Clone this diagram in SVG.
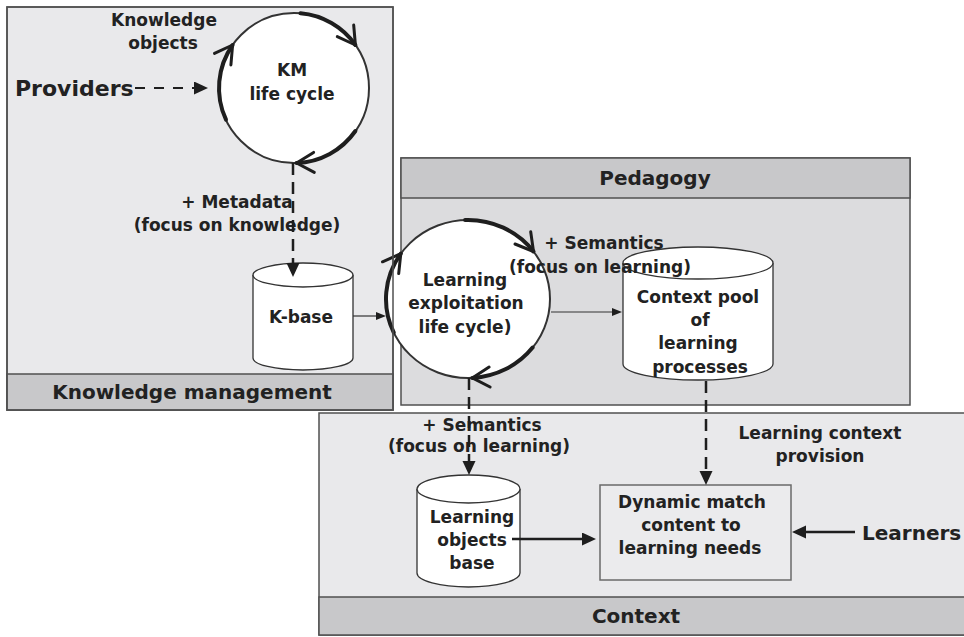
<svg xmlns="http://www.w3.org/2000/svg" width="964" height="637" viewBox="0 0 964 637">
  <defs>
    <style>
      .panel { fill: #e9e9eb; stroke: #505050; stroke-width: 1.5; }
      .panel-dark { fill: #dcdcde; stroke: #505050; stroke-width: 1.5; }
      .band { fill: #c8c8ca; stroke: #505050; stroke-width: 1.5; }
      .frame { fill: none; stroke: #505050; stroke-width: 1.5; }
      .cyl { fill: #ffffff; stroke: #333333; stroke-width: 1.3; }
      .box { fill: #ebebed; stroke: #6a6a6a; stroke-width: 1.5; }
      .cycle { fill: #ffffff; stroke: #333333; stroke-width: 2; }
      .turn { fill: none; stroke: #1e1e1e; stroke-width: 4; stroke-linecap: round; }
      .chev { fill: none; stroke: #1e1e1e; stroke-width: 3; stroke-linecap: round; stroke-linejoin: round; }
      .lbl { font-family: "DejaVu Sans", Verdana, sans-serif; font-weight: bold; font-size: 17px; fill: #222222; text-anchor: middle; }
      .big { font-size: 20px; }
      .huge { font-size: 22px; }
      .dash { fill: none; stroke: #1e1e1e; stroke-width: 2.5; stroke-dasharray: 12 7; }
      .thin { fill: none; stroke: #333333; stroke-width: 1.2; }
      .thick { fill: none; stroke: #1e1e1e; stroke-width: 2.5; }
    </style>
    <marker id="headL" markerUnits="userSpaceOnUse" markerWidth="15" markerHeight="14" refX="2" refY="6.5" orient="auto">
      <path d="M0,0 L14,6.5 L0,13 z" fill="#1e1e1e"/>
    </marker>
    <marker id="headS" markerUnits="userSpaceOnUse" markerWidth="11" markerHeight="9" refX="1" refY="4" orient="auto">
      <path d="M0,0 L10,4 L0,8 z" fill="#1e1e1e"/>
    </marker>
  </defs>

  <!-- Panels -->
  <g id="panel-km">
    <rect class="panel" x="7" y="7" width="386" height="403"/>
    <rect class="band" x="7" y="374" width="386" height="36"/>
    <text class="lbl big" x="192" y="399">Knowledge management</text>
  </g>
  <g id="panel-pedagogy">
    <rect class="panel-dark" x="401" y="158" width="509" height="247"/>
    <rect class="band" x="401" y="158" width="509" height="40"/>
    <text class="lbl big" x="655" y="185">Pedagogy</text>
  </g>
  <g id="panel-context">
    <rect class="panel" x="319" y="413" width="660" height="222"/>
    <rect class="band" x="319" y="597" width="660" height="38"/>
    <text class="lbl big" x="636" y="623">Context</text>
  </g>

  <!-- KM life cycle -->
  <g id="km-cycle">
    <circle class="cycle" cx="294" cy="88" r="75"/>
    <path class="turn" d="M226.0,119.7 A75,75 0 0 1 232.6,45.0"/>
    <polyline class="chev" points="214.5,53.4 232.6,45.0 230.9,64.9"/>
    <path class="turn" d="M300.5,13.3 A75,75 0 0 1 355.4,45.0"/>
    <polyline class="chev" points="353.7,25.1 355.4,45.0 337.3,36.6"/>
    <path class="turn" d="M355.4,131.0 A75,75 0 0 1 296.6,163.0"/>
    <polyline class="chev" points="314.3,172.4 296.6,163.0 313.6,152.4"/>
    <text class="lbl" x="292" y="76">KM</text>
    <text class="lbl" x="292" y="100">life cycle</text>
  </g>

  <!-- Learning exploitation life cycle -->
  <g id="learning-cycle">
    <ellipse class="cycle" cx="468" cy="299" rx="82" ry="79"/>
    <path class="turn" d="M393.7,332.4 A82,79 0 0 1 400.8,253.7"/>
    <polyline class="chev" points="382.5,261.8 400.8,253.7 398.7,273.6"/>
    <path class="turn" d="M465.1,220.0 A82,79 0 0 1 533.5,251.5"/>
    <polyline class="chev" points="530.7,231.7 533.5,251.5 515.0,244.0"/>
    <path class="turn" d="M532.6,347.6 A82,79 0 0 1 472.3,377.9"/>
    <polyline class="chev" points="490.1,387.0 472.3,377.9 489.1,367.0"/>
    <text class="lbl" x="465" y="286">Learning</text>
    <text class="lbl" x="466" y="309">exploitation</text>
    <text class="lbl" x="465" y="333">life cycle)</text>
  </g>

  <!-- Knowledge management panel outline drawn over the learning cycle -->
  <rect class="frame" x="7" y="7" width="386" height="403"/>

  <!-- Stores -->
  <g id="k-base">
    <path class="cyl" d="M253,275 L253,358 A50,12 0 0 0 353,358 L353,275"/>
    <ellipse class="cyl" cx="303" cy="275" rx="50" ry="12"/>
    <text class="lbl" x="301" y="323">K-base</text>
  </g>
  <g id="context-pool">
    <path class="cyl" d="M623,263 L623,364 A75,16 0 0 0 773,364 L773,263"/>
    <ellipse class="cyl" cx="698" cy="263" rx="75" ry="16"/>
    <text class="lbl" x="698" y="303">Context pool</text>
    <text class="lbl" x="700" y="326">of</text>
    <text class="lbl" x="698" y="349">learning</text>
    <text class="lbl" x="700" y="373">processes</text>
  </g>
  <g id="lo-base">
    <path class="cyl" d="M417,489 L417,573 A51.5,14 0 0 0 520,573 L520,489"/>
    <ellipse class="cyl" cx="468.5" cy="489" rx="51.5" ry="14"/>
    <text class="lbl" x="472" y="523">Learning</text>
    <text class="lbl" x="472" y="546">objects</text>
    <text class="lbl" x="472" y="569">base</text>
  </g>

  <g id="match">
    <rect class="box" x="600" y="485" width="191" height="95"/>
    <text class="lbl" x="692" y="508">Dynamic match</text>
    <text class="lbl" x="691" y="531">content to</text>
    <text class="lbl" x="690" y="554">learning needs</text>
  </g>

  <!-- Free labels -->
  <g id="labels">
    <text class="lbl" x="164" y="26">Knowledge</text>
    <text class="lbl" x="163" y="49">objects</text>
    <text class="lbl huge" x="15" y="96" style="text-anchor:start">Providers</text>
    <text class="lbl" x="237" y="208">+ Metadata</text>
    <text class="lbl" x="237" y="231">(focus on knowledge)</text>
    <text class="lbl" x="604" y="249">+ Semantics</text>
    <text class="lbl" x="600" y="273">(focus on learning)</text>
    <text class="lbl" x="482" y="431">+ Semantics</text>
    <text class="lbl" x="479" y="452">(focus on learning)</text>
    <text class="lbl" x="820" y="439">Learning context</text>
    <text class="lbl" x="820" y="462">provision</text>
    <text class="lbl big" x="862" y="540" style="text-anchor:start">Learners</text>
  </g>

  <!-- Connectors -->
  <g id="connectors">
    <path class="dash" d="M135,88 L196,88" style="stroke-width:2;stroke-dasharray:10 9" marker-end="url(#headL)"/>
    <path class="dash" d="M293,163 L293,265" marker-end="url(#headL)"/>
    <path class="thin" d="M353,316 L377,316" marker-end="url(#headS)"/>
    <path class="thin" d="M551,312 L613,312" marker-end="url(#headS)"/>
    <path class="dash" d="M469,378 L469,463" marker-end="url(#headL)"/>
    <path class="dash" d="M706,381 L706,473" marker-end="url(#headL)"/>
    <path class="thick" d="M512,539 L584,539" marker-end="url(#headL)"/>
    <path class="thick" d="M855,532 L804,532" marker-end="url(#headL)"/>
  </g>
</svg>
